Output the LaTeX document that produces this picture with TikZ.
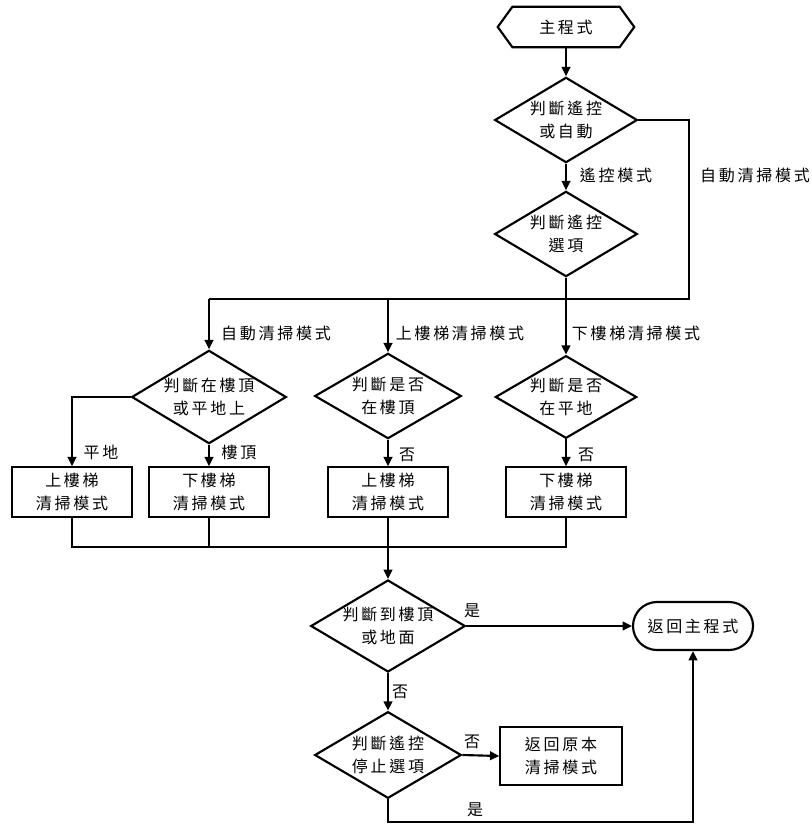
\documentclass[tikz,border=0pt]{standalone}
\usepackage{fontspec}
\newfontfamily\cjk[LetterSpace=17]{Noto Sans CJK TC}
\usetikzlibrary{shapes.geometric,arrows.meta}
\begin{document}
\begin{tikzpicture}[x=0.75pt,y=-0.75pt,
  every node/.style={font=\cjk\fontsize{12}{17}\selectfont},
  line/.style={line width=1.6pt},
  arr/.style={line, -{Triangle[length=7pt,width=6.5pt]}},
  dec/.style={draw, line width=1.6pt, diamond, aspect=1.7, inner sep=0pt, align=center},
  proc/.style={draw, line width=1.6pt, rectangle, minimum width=90pt, minimum height=37pt, align=center, inner sep=0pt},
  term/.style={draw, line width=1.6pt, rectangle, rounded corners=18pt, minimum width=90pt, minimum height=36pt, inner sep=0pt},
  lbl/.style={inner sep=0pt}
]
\useasboundingbox (0,0) rectangle (811,824);

% start hexagon
\node[minimum width=80pt, minimum height=30pt, inner sep=0pt] (start) at (566,27) {主程式};
\draw[line] ([xshift=-11pt]start.west) -- (start.north west) -- (start.north east)
  -- ([xshift=11pt]start.east) -- (start.south east) -- (start.south west) -- cycle;

\node[dec, minimum width=107pt, minimum height=64pt] (d1) at (566,120) {判斷遙控\\或自動};
\node[dec, minimum width=107pt, minimum height=64pt] (d2) at (566,234) {判斷遙控\\選項};

\coordinate (jR) at (689,299);
\coordinate (jL) at (209,299);
\coordinate (jM) at (388,299);

\node[dec, minimum width=116pt, minimum height=70pt] (dA) at (209,397) {判斷在樓頂\\或平地上};
\node[dec, minimum width=110pt, minimum height=64pt] (dB) at (388,396) {判斷是否\\在樓頂};
\node[dec, minimum width=106pt, minimum height=62pt] (dC) at (566,397) {判斷是否\\在平地};

\node[proc] (bA1) at (72,492) {上樓梯\\清掃模式};
\node[proc] (bA2) at (209,492) {下樓梯\\清掃模式};
\node[proc] (bB) at (388,492) {上樓梯\\清掃模式};
\node[proc] (bC) at (566,492) {下樓梯\\清掃模式};

\coordinate (m) at (388,547);

\node[dec, minimum width=115pt, minimum height=69pt] (dD) at (388,626) {判斷到樓頂\\或地面};
\node[term] (ret) at (693,626) {返回主程式};
\node[dec, minimum width=110pt, minimum height=65pt] (dE) at (388,755) {判斷遙控\\停止選項};
\node[proc, minimum width=91pt, minimum height=43.5pt] (bE) at (561,756) {返回原本\\清掃模式};
\coordinate (bot) at (693,822);

% connectors
\draw[arr] (start.south) -- (d1.north);
\draw[arr] (d1.south) -- (d2.north);
\draw[line] (d1.east) -| (jR) -- (jL);
\draw[arr] (jL) -- (dA.north);
\draw[arr] (jM) -- (dB.north);
\draw[arr] (d2.south) -- (dC.north);

\draw[arr] (dA.west) -| (bA1.north);
\draw[arr] (dA.south) -- (bA2.north);
\draw[arr] (dB.south) -- (bB.north);
\draw[arr] (dC.south) -- (bC.north);

\draw[line] (bA1.south) |- (m);
\draw[line] (bA2.south) -- (bA2.south |- m);
\draw[line] (bC.south) |- (m);
\draw[arr] (bB.south) -- (dD.north);

\draw[arr] (dD.east) -- (ret.west);
\draw[arr] (dD.south) -- (dE.north);
\draw[arr] (dE.east) -- (bE.west);
\draw[arr] (dE.south) |- (bot) -- (ret.south);

% labels
\node[lbl] (l1) at (616,175) {遙控模式};
\node[lbl] (l2) at (755,175) {自動清掃模式};
\node[lbl] (l3) at (276,333) {自動清掃模式};
\node[lbl] (l4) at (460,333) {上樓梯清掃模式};
\node[lbl] (l5) at (636,333) {下樓梯清掃模式};
\node[lbl] (l6) at (101,452) {平地};
\node[lbl] (l7) at (239,452) {樓頂};
\node[lbl] (l8) at (407,455) {否};
\node[lbl] (l9) at (586,455) {否};
\node[lbl] (l10) at (472,611) {是};
\node[lbl] (l11) at (400,692) {否};
\node[lbl] (l12) at (472,742) {否};
\node[lbl] (l13) at (475,810) {是};
\end{tikzpicture}
\end{document}
